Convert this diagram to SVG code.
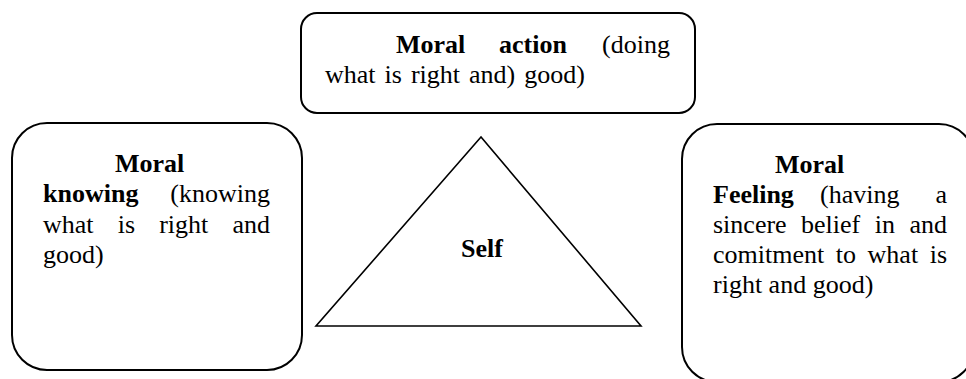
<svg xmlns="http://www.w3.org/2000/svg" width="966" height="379" viewBox="0 0 966 379">
<style>
.box{fill:#fff;stroke:#000;stroke-width:2}
.tri{fill:#fff;stroke:#000;stroke-width:1.6}
text{font-family:'Liberation Serif','Times New Roman','DejaVu Serif',serif;font-size:26px;font-weight:normal;fill:#000}
.b{font-weight:bold}
.e{text-anchor:end}
</style>
<rect width="966" height="379" fill="#fff"/>
<g id="self">
<polygon class="tri" points="481,137 316,326 641,326"/>
<text class="b" x="482" y="257" text-anchor="middle">Self</text>
</g>
<g id="moral-action">
<rect class="box" x="301" y="13" width="394" height="100" rx="16"/>
<text class="b" x="396" y="53">Moral</text>
<text class="b" x="499" y="53">action</text>
<text class="e" x="670" y="53">(doing</text>
<text x="325" y="83" word-spacing="2.5">what is right and) good)</text>
</g>
<g id="moral-knowing">
<rect class="box" x="12" y="123" width="290" height="247" rx="35"/>
<text class="b" x="115" y="172">Moral</text>
<text class="b" x="43" y="202">knowing</text>
<text class="e" x="270" y="202">(knowing</text>
<text x="43" y="233">what</text>
<text x="117.7" y="233">is</text>
<text x="159.2" y="233">right</text>
<text class="e" x="270" y="233">and</text>
<text x="43" y="263">good)</text>
</g>
<g id="moral-feeling">
<rect class="box" x="682" y="124" width="292" height="258" rx="35"/>
<text class="b" x="775" y="173">Moral</text>
<text class="b" x="713" y="203">Feeling</text>
<text x="820" y="203">(having</text>
<text class="e" x="947" y="203">a</text>
<text x="713" y="233">sincere</text>
<text x="801" y="233">belief</text>
<text x="874.8" y="233">in</text>
<text class="e" x="947" y="233">and</text>
<text x="713" y="263">comitment</text>
<text x="835.8" y="263">to</text>
<text x="867.6" y="263">what</text>
<text class="e" x="947" y="263">is</text>
<text x="713" y="293">right and good)</text>
</g>
<g id="connectors"/>
</svg>
